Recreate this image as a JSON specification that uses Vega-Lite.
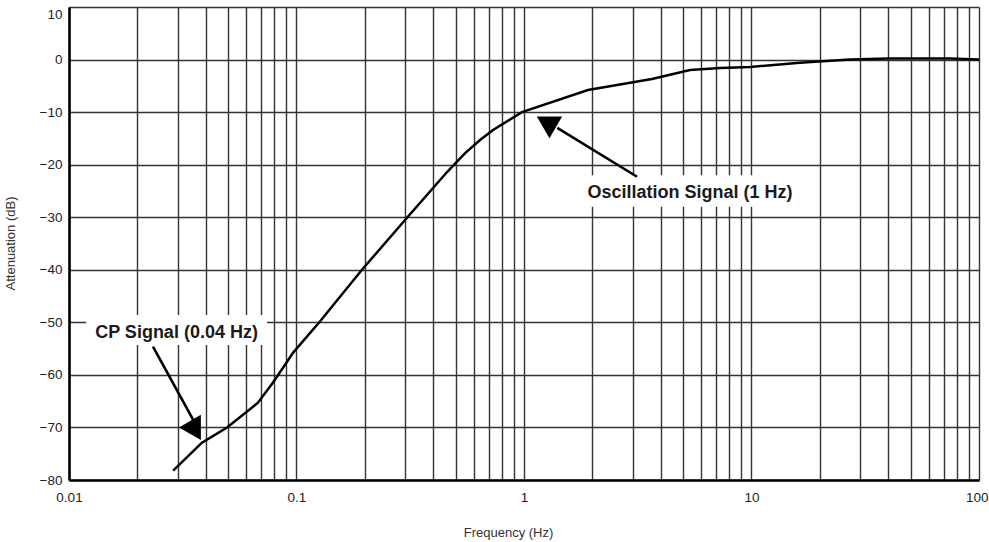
{
  "$schema": "https://vega.github.io/schema/vega-lite/v6.json",
  "autosize": "none",
  "width": 910,
  "height": 473,
  "padding": {"left": 69, "top": 7, "right": 10, "bottom": 62},
  "background": "white",
  "config": {
    "view": {"stroke": null},
    "font": "Liberation Sans",
    "axis": {
      "grid": true,
      "gridColor": "#333333",
      "gridWidth": 1.4,
      "gridOpacity": 1,
      "ticks": false,
      "tickSize": 0,
      "domainColor": "#000000",
      "domainWidth": 2.6,
      "labelFont": "Liberation Sans",
      "labelFontSize": 13.5,
      "labelColor": "#222222",
      "titleFont": "Liberation Sans",
      "titleFontWeight": "normal",
      "titleFontSize": 13,
      "titleColor": "#333333"
    }
  },
  "datasets": {
    "curve": [
      {"f": 0.0287, "db": -78.2},
      {"f": 0.0384, "db": -72.9},
      {"f": 0.0495, "db": -70.0},
      {"f": 0.0677, "db": -65.3},
      {"f": 0.0787, "db": -61.5},
      {"f": 0.0909, "db": -57.5},
      {"f": 0.0965, "db": -55.8},
      {"f": 0.127, "db": -49.8},
      {"f": 0.194, "db": -40.0},
      {"f": 0.306, "db": -30.1},
      {"f": 0.459, "db": -21.4},
      {"f": 0.551, "db": -17.8},
      {"f": 0.641, "db": -15.3},
      {"f": 0.731, "db": -13.4},
      {"f": 0.98, "db": -10.0},
      {"f": 1.91, "db": -5.8},
      {"f": 3.65, "db": -3.7},
      {"f": 5.37, "db": -2.0},
      {"f": 7.27, "db": -1.6},
      {"f": 9.85, "db": -1.4},
      {"f": 16.3, "db": -0.6},
      {"f": 27.1, "db": 0.0},
      {"f": 40, "db": 0.2},
      {"f": 75, "db": 0.2},
      {"f": 100, "db": 0.0}
    ],
    "boxes": [
      {"fa": 0.0119, "fb": 0.0742, "da": -48.6, "db": -54.3},
      {"fa": 1.76, "fb": 16.0, "da": -22.0, "db": -28.0}
    ],
    "arrows": [
      {"fa": 0.0234, "da": -54.6, "fb": 0.0351, "db": -68.5},
      {"fa": 3.14, "da": -22.3, "fb": 1.40, "db": -13.0}
    ],
    "heads": [
      {"f": 0.034, "db": -70.0, "shape": "triangle-left"},
      {"f": 1.294, "db": -12.9, "shape": "triangle-down"}
    ],
    "labels": [
      {"f": 0.0297, "db": -52.0, "text": "CP Signal (0.04 Hz)"},
      {"f": 5.37, "db": -25.4, "text": "Oscillation Signal (1 Hz)"}
    ]
  },
  "layer": [
    {
      "data": {"name": "boxes"},
      "mark": {"type": "rect", "color": "white"},
      "encoding": {
        "x": {
          "field": "fa", "type": "quantitative",
          "scale": {"type": "log", "domain": [0.01, 100], "nice": false},
          "axis": {
            "title": "Frequency (Hz)",
            "values": [0.01,0.02,0.03,0.04,0.05,0.06,0.07,0.08,0.09,0.1,0.2,0.3,0.4,0.5,0.6,0.7,0.8,0.9,1,2,3,4,5,6,7,8,9,10,20,30,40,50,60,70,80,90,100],
            "format": "~g",
            "labelExpr": "(datum.value == 0.01 || datum.value == 0.1 || datum.value == 1 || datum.value == 10 || datum.value == 100) ? datum.label : ''",
            "labelOverlap": false,
            "labelPadding": 10,
            "labelFlush": false,
            "labelAlign": {"condition": {"test": "datum.value == 100", "value": "right"}, "value": "center"},
            "labelOffset": {"condition": {"test": "datum.value == 100", "value": 9}, "value": 0},
            "titleX": 439,
            "titleY": 52,
            "titleBaseline": "middle"
          }
        },
        "x2": {"field": "fb"},
        "y": {
          "field": "da", "type": "quantitative",
          "scale": {"domain": [-80, 10], "nice": false},
          "axis": {
            "title": "Attenuation (dB)",
            "values": [-80,-70,-60,-50,-40,-30,-20,-10,0,10],
            "labelPadding": 7,
            "labelFlush": false,
            "labelBaseline": {"condition": {"test": "datum.value == 10", "value": "top"}, "value": "middle"},
            "titleX": -59,
            "titleY": 236,
            "titleBaseline": "middle"
          }
        },
        "y2": {"field": "db"}
      }
    },
    {
      "data": {"name": "curve"},
      "mark": {"type": "line", "color": "#000000", "strokeWidth": 2.5},
      "encoding": {
        "x": {"field": "f", "type": "quantitative"},
        "y": {"field": "db", "type": "quantitative"}
      }
    },
    {
      "data": {"name": "arrows"},
      "mark": {"type": "rule", "color": "#000000", "strokeWidth": 2.6},
      "encoding": {
        "x": {"field": "fa", "type": "quantitative"},
        "y": {"field": "da", "type": "quantitative"},
        "x2": {"field": "fb"},
        "y2": {"field": "db"}
      }
    },
    {
      "data": {"name": "heads"},
      "mark": {"type": "point", "filled": true, "color": "#000000", "opacity": 1, "size": 640},
      "encoding": {
        "x": {"field": "f", "type": "quantitative"},
        "y": {"field": "db", "type": "quantitative"},
        "shape": {"field": "shape", "type": "nominal", "scale": null}
      }
    },
    {
      "data": {"name": "labels"},
      "mark": {"type": "text", "font": "Liberation Sans", "fontWeight": "bold", "fontSize": 18, "color": "#1a1a1a", "align": "center", "baseline": "middle"},
      "encoding": {
        "x": {"field": "f", "type": "quantitative"},
        "y": {"field": "db", "type": "quantitative"},
        "text": {"field": "text"}
      }
    }
  ]
}
